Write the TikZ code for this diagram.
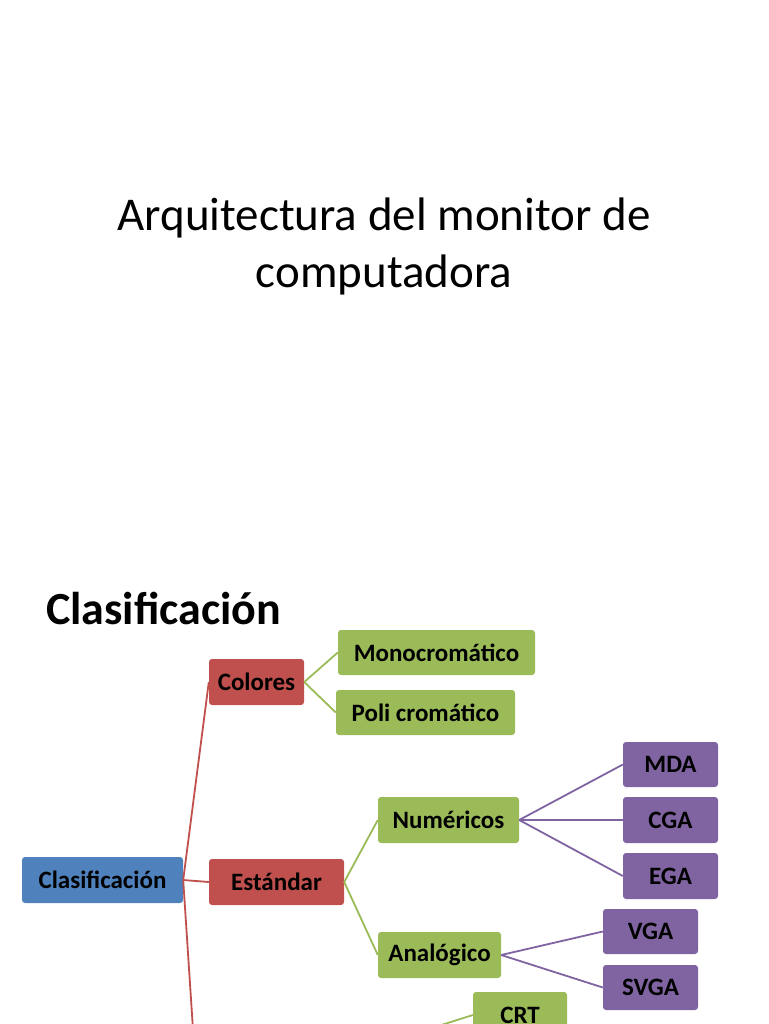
\documentclass[tikz,border=0pt]{standalone}
\usepackage{fontspec}
\setmainfont{Carlito}
\usetikzlibrary{positioning}
\definecolor{smblue}{RGB}{79,129,189}
\definecolor{smred}{RGB}{192,80,77}
\definecolor{smgreen}{RGB}{155,187,89}
\definecolor{smpurple}{RGB}{128,100,162}
\tikzset{
  caja/.style={rounded corners=3pt, minimum height=46pt, inner sep=0pt,
    font=\fontsize{25}{30}\selectfont\bfseries, text=black},
  cajaazul/.style={caja, fill=smblue},
  cajaroja/.style={caja, fill=smred},
  cajaverde/.style={caja, fill=smgreen},
  cajamorada/.style={caja, fill=smpurple},
  rama/.style={line width=1.8pt}
}

\begin{document}
\begin{tikzpicture}[x=1pt, y=-1pt]
  \clip (0,0) rectangle (768,1024);
  \fill[white] (0,0) rectangle (768,1024);
  % titulo
  \node[anchor=base, font=\fontsize{47}{56}\selectfont] (tituloa) at (384,230) {Arquitectura del monitor de};
  \node[anchor=base, font=\fontsize{47}{56}\selectfont] (titulob) at (384,287) {computadora};
  \node[anchor=base west, inner sep=0pt, font=\fontsize{46}{55}\selectfont\bfseries] (encabezado) at (46,624) {Clasificación};
  % nodos
  \node[cajaazul, minimum width=161pt] (clas) at (102.5,880) {Clasificación};
  \node[cajaroja, minimum width=95pt] (col) at (256.5,682) {Colores};
  \node[cajaroja, minimum width=135pt] (est) at (276.5,882) {Estándar};
  \node[cajaverde, minimum width=197pt, minimum height=45pt] (mono) at (436.5,652.5) {Monocromático};
  \node[cajaverde, minimum width=179pt, minimum height=45pt] (poli) at (425.5,712.5) {Poli cromático};
  \node[cajaverde, minimum width=141pt] (num) at (448.5,820) {Numéricos};
  \node[cajaverde, minimum width=123pt] (ana) at (439.5,955) {Analógico};
  \node[cajamorada, minimum width=95pt, minimum height=45pt] (mda) at (670.5,764.5) {MDA};
  \node[cajamorada, minimum width=95pt] (cga) at (670.5,820) {CGA};
  \node[cajamorada, minimum width=95pt] (ega) at (670.5,876) {EGA};
  \node[cajamorada, minimum width=95pt, minimum height=45pt] (vga) at (650.5,931.5) {VGA};
  \node[cajamorada, minimum width=95pt, minimum height=45pt] (svga) at (650.5,987.5) {SVGA};
  \node[cajaverde, minimum width=94pt] (crt) at (520,1015) {CRT};
  \coordinate (bajo) at (195,1060);
  \coordinate (bajocrt) at (344,1056);
  % conectores
  \draw[rama, smred] (clas.east) -- (col.west);
  \draw[rama, smred] (clas.east) -- (est.west);
  \draw[rama, smred] (clas.east) -- (bajo);
  \draw[rama, smgreen] (col.east) -- (mono.west);
  \draw[rama, smgreen] (col.east) -- (poli.west);
  \draw[rama, smgreen] (est.east) -- (num.west);
  \draw[rama, smgreen] (est.east) -- (ana.west);
  \draw[rama, smgreen] (bajocrt) -- (crt.west);
  \draw[rama, smpurple] (num.east) -- (mda.west);
  \draw[rama, smpurple] (num.east) -- (cga.west);
  \draw[rama, smpurple] (num.east) -- (ega.west);
  \draw[rama, smpurple] (ana.east) -- (vga.west);
  \draw[rama, smpurple] (ana.east) -- (svga.west);
\end{tikzpicture}
\end{document}
